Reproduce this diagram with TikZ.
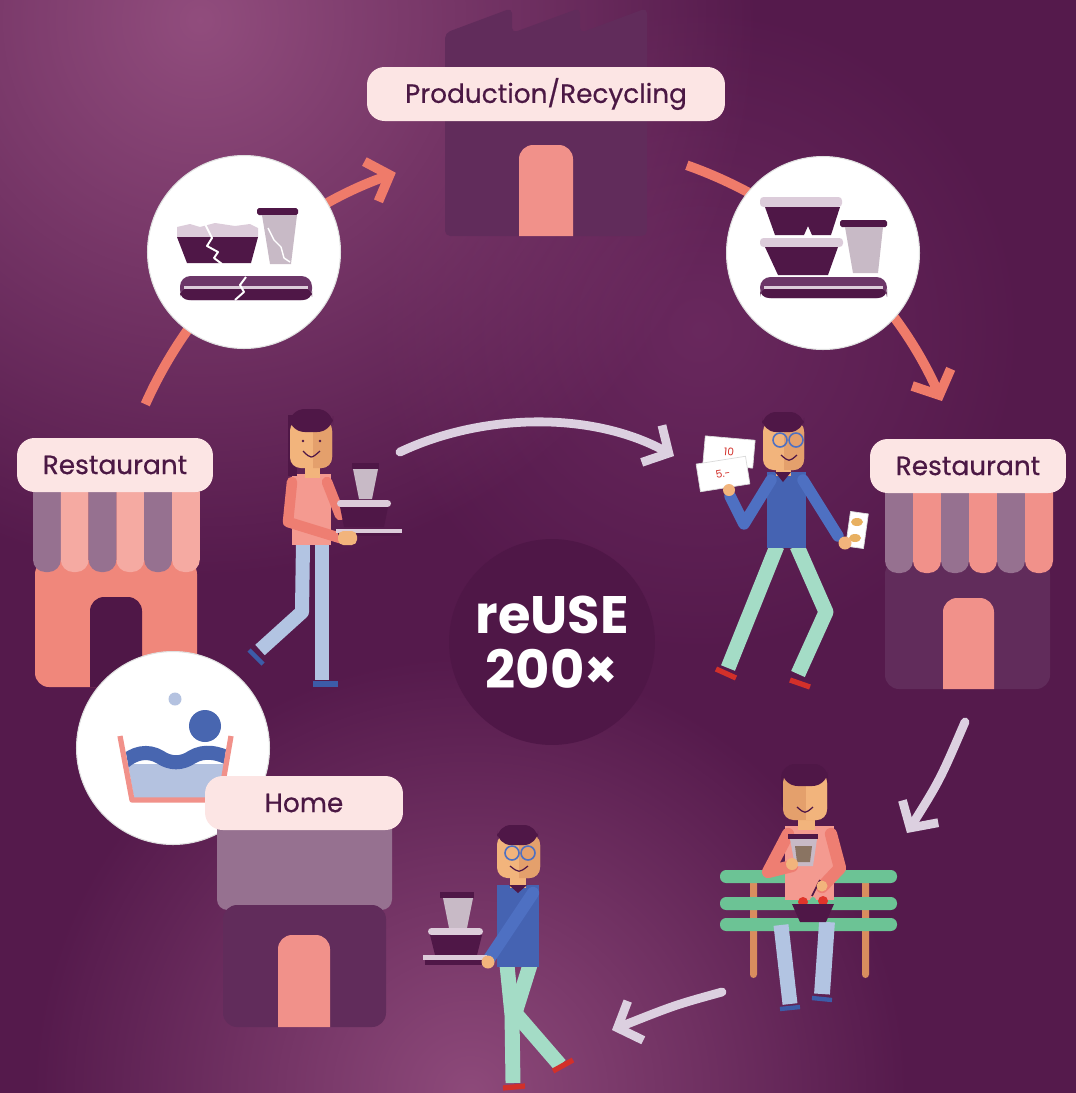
\documentclass[tikz,border=0pt]{standalone}
\usepackage{fontspec}
\newfontfamily\tagfont{Poppins}[FakeBold=0.5]
\newfontfamily\hubfont{Poppins}
\usetikzlibrary{arrows.meta, fadings, calc}

\definecolor{bgdark}{HTML}{551A4C}
\definecolor{bgmid}{HTML}{6E2C62}
\definecolor{bglight}{HTML}{9C5686}
\definecolor{bldg}{HTML}{612C5B}
\definecolor{plum}{HTML}{4F1747}
\definecolor{tagfill}{HTML}{FCE5E4}
\definecolor{tagtext}{HTML}{4B1844}
\definecolor{coral}{HTML}{EF7B6A}
\definecolor{doorpink}{HTML}{F1918A}
\definecolor{brick}{HTML}{F0877B}
\definecolor{mauve}{HTML}{967190}
\definecolor{blush}{HTML}{F5AAA2}
\definecolor{haze}{HTML}{DCD0E0}
\definecolor{lidgrey}{HTML}{DCCCDA}
\definecolor{cupgrey}{HTML}{C8BAC6}
\definecolor{traymid}{HTML}{6C3668}
\definecolor{jumper}{HTML}{4563B2}
\definecolor{sleeve}{HTML}{4E70C2}
\definecolor{denim}{HTML}{B2C4E2}
\definecolor{mint}{HTML}{A4DCC6}
\definecolor{skin}{HTML}{F2B47C}
\definecolor{skindark}{HTML}{E4A06C}
\definecolor{shirt}{HTML}{F49A90}
\definecolor{shirtarm}{HTML}{EE7E72}
\definecolor{bench}{HTML}{6CC395}
\definecolor{benchleg}{HTML}{D98D5E}
\definecolor{shoeblue}{HTML}{3C5CA8}
\definecolor{shoered}{HTML}{D2302A}
\definecolor{wave}{HTML}{4866B0}
\definecolor{water}{HTML}{B4C2E0}
\definecolor{coffee}{HTML}{8A7462}
\definecolor{tomato}{HTML}{E0352B}
\definecolor{coin}{HTML}{E8B060}

\tikzfading[name=glowfade, inner color=transparent!0, outer color=transparent!100]

\begin{document}
\begin{tikzpicture}[x=0.02cm, y=-0.02cm, line join=round,
  signbox/.style={fill=tagfill, text=tagtext, rounded corners=10pt, inner sep=0pt,
    minimum height=1.08cm, font=\tagfont\fontsize{15}{18}\selectfont},
  icondisc/.style={circle, fill=white, draw=black!12, line width=.6pt, inner sep=0pt, minimum size=3.86cm},
  hub/.style={circle, fill=plum, inner sep=0pt, minimum size=4.12cm, text=white, align=center,
    font=\hubfont\bfseries\fontsize{30}{31}\selectfont},
  cyclearrow/.style={coral, line width=5.5pt, -{Straight Barb[length=11pt, width=24pt]}},
  handover/.style={haze, line width=5pt, line cap=round, -{Straight Barb[length=11pt, width=24pt]}},
  bill/.style={fill=white, draw=black!15, inner sep=0pt, minimum width=1cm, minimum height=.56cm,
    text=shoered, font=\hubfont\fontsize{6}{6}\selectfont}]

\useasboundingbox (0,0) rectangle (1076,1093);

%\draw[help lines, step=50] (0,0) grid (1076,1093);

\begin{scope}
\clip (0,0) rectangle (1076,1093);
\fill[bgdark] (0,0) rectangle (1076,1093);
\fill[bgmid, path fading=glowfade, fill opacity=.8] (700,330) circle (330);
\fill[bglight, path fading=glowfade, fill opacity=.85] (200,20) circle (560);
\fill[bglight, path fading=glowfade, fill opacity=.8] (470,1093) circle (440);
\end{scope}

\coordinate (cyc) at (540,580);

% factory
\fill[bldg, rounded corners=3pt] (445,236) -- (445,33) -- (512,8) -- (512,33) -- (580,8) -- (580,33) -- (647,8) -- (647,236) -- cycle;
\fill[doorpink] (519,236) [rounded corners=8pt]-- (519,145) -- (573,145) [sharp corners]-- (573,236) -- cycle;
\node[signbox, minimum width=7.16cm] (prod) at (546,94) {Production/Recycling};

% coral arcs of the cycle
\coordinate (rl) at ($(cyc)+(204:432)$);
\coordinate (rr) at ($(cyc)+(289.5:440)$);
\draw[cyclearrow] (rl) arc[start angle=204, end angle=250.5, radius=432];
\draw[cyclearrow] (rr) arc[start angle=289.5, end angle=336, radius=440];

% broken containers
\node[icondisc] (broken) at (244,252) {};
\fill[lidgrey] (177,227) -- (190,224) -- (200,227) -- (215,223) -- (235,226) -- (250,224) -- (258,228) -- (258,237) -- (177,237) -- cycle;
\fill[plum] (177,237) -- (258,237) -- (251,263) -- (187,263) -- cycle;
\fill[plum, rounded corners=1pt] (257,208) rectangle (298,215);
\fill[cupgrey] (262,215) -- (297,215) -- (291,264) -- (270,264) -- cycle;
\fill[traymid, rounded corners=6pt] (180,276) rectangle (312,300);
\fill[plum, rounded corners=5pt] (180,288) rectangle (312,300);
\fill[lidgrey] (184,286) rectangle (308,289);
\draw[white, line width=1.1pt] (205,224) -- (212,238) -- (207,246) -- (218,252) -- (214,258) -- (222,264);
\draw[white, line width=1.1pt] (246,277) -- (240,285) -- (244,292) -- (235,300);
\draw[white, line width=.8pt] (268,228) -- (274,240) -- (281,247) -- (284,258) -- (290,262);

% clean stack
\node[icondisc] (stack) at (823,253) {};
\fill[lidgrey, rounded corners=2pt] (760,197) rectangle (842,207);
\fill[plum] (765,207) -- (840,207) -- (831,235) -- (812,235) -- (808,226) -- (804,235) -- (775,235) -- cycle;
\fill[lidgrey, rounded corners=2pt] (760,238) rectangle (843,247);
\fill[plum] (765,247) -- (838,247) -- (828,275) -- (778,275) -- cycle;
\fill[plum, rounded corners=1pt] (840,220) rectangle (887,227);
\fill[cupgrey] (845,227) -- (883,227) -- (878,273) -- (853,273) -- cycle;
\fill[traymid, rounded corners=6pt] (760,277) rectangle (887,298);
\fill[plum, rounded corners=5pt] (760,288) rectangle (887,298);
\fill[lidgrey] (764,286) rectangle (883,289);

% restaurant on the left
\fill[brick, rounded corners=8pt] (35,560) rectangle (197,687);
\foreach \i/\c in {0/mauve, 1/blush, 2/mauve, 3/blush, 4/mauve, 5/blush}
  \fill[\c, rounded corners=7pt] ({33+\i*27.8},480) rectangle ({33+(\i+1)*27.8},572);
\fill[plum] (90,687) [rounded corners=8pt]-- (90,597) -- (142,597) [sharp corners]-- (142,687) -- cycle;
\node[signbox, minimum width=3.92cm] (restL) at (115,465) {Restaurant};

% restaurant on the right
\fill[bldg, rounded corners=8pt] (885,560) rectangle (1050,689);
\foreach \i/\c in {0/mauve, 1/doorpink, 2/mauve, 3/doorpink, 4/mauve, 5/doorpink}
  \fill[\c, rounded corners=7pt] ({885+\i*28},480) rectangle ({885+(\i+1)*28},573);
\fill[doorpink] (943,689) [rounded corners=8pt]-- (943,598) -- (994,598) [sharp corners]-- (994,689) -- cycle;
\node[signbox, minimum width=3.92cm] (restR) at (968,466) {Restaurant};

% washing bowl
\node[icondisc] (wash) at (173,748) {};
\begin{scope}
\clip (123,736) -- (134,798) -- (219,798) -- (228,736) -- cycle;
\fill[water] (120,764) rectangle (232,800);
\draw[wave, line width=8pt] (122,764) .. controls (134,752) and (148,750) .. (160,757) .. controls (170,764) and (182,764) .. (192,757) .. controls (204,750) and (218,752) .. (232,760);
\end{scope}
\draw[doorpink, line width=3pt] (120,736) -- (132,800) -- (220,800) -- (231,736);
\fill[wave] (205,726) circle (16);
\fill[water] (175,699) circle (6.5);

% home
\fill[mauve, rounded corners=6pt] (217,815) rectangle (392,910);
\fill[bldg, rounded corners=8pt] (223,905) rectangle (386,1027);
\fill[doorpink] (278,1027) [rounded corners=8pt]-- (278,935) -- (330,935) [sharp corners]-- (330,1027) -- cycle;
\node[signbox, minimum width=3.96cm] (home) at (304,803) {Home};

% centre
\node[hub] (reuse) at (552,642) {reUSE\\200×};

% light arrows between the people
\coordinate (g1) at (400,452);
\coordinate (g2) at (674,456);
\coordinate (g3) at (965,722);
\coordinate (g4) at (907,833);
\coordinate (g5) at (722,992);
\coordinate (g6) at (612,1030);
\draw[handover] (g1) .. controls (480,414) and (590,410) .. (g2);
\draw[handover] (g3) .. controls (940,780) .. (g4);
\draw[handover] (g5) .. controls (675,1005) .. (g6);

% woman with a tray
\draw[denim, line width=8pt] (303,543) -- (302,612) -- (260,650);
\draw[denim, line width=8.5pt] (322,543) -- (322,680);
\draw[shoeblue, line width=2.5pt] (249,650) -- (263,664);
\draw[shoeblue, line width=3pt] (313,684) -- (338,684);
\fill[shirt] (292,474) rectangle (331,545);
\draw[shirtarm, line width=6pt, line cap=round] (292,482) -- (288,522) -- (340,538);
\draw[shirtarm, line width=6pt, line cap=round] (327,482) -- (340,515);
\fill[plum] (288,415) rectangle (297,476);
\fill[skin] (305,460) rectangle (320,478);
\fill[skin, rounded corners=6pt] (290,420) rectangle (332,468);
\fill[skindark] (313,420) [rounded corners=6pt]-- (332,420) -- (332,468) [sharp corners]-- (313,468) -- cycle;
\fill[plum, rounded corners=9pt] (289,409) rectangle (333,432);
\fill[plum] (303,441) circle (1.3) (320,441) circle (1.3);
\draw[plum, line width=.7pt] (303,451) .. controls (311,459) .. (320,451);
\fill[plum] (352,463) rectangle (379,469);
\fill[cupgrey] (353,469) -- (378,469) -- (372,499) -- (359,499) -- cycle;
\fill[lidgrey, rounded corners=2pt] (337,500) rectangle (391,507);
\fill[plum] (340,507) -- (388,507) -- (384,527) -- (344,527) -- cycle;
\fill[lidgrey] (336,529) rectangle (402,533);
\fill[plum] (338,533) rectangle (400,536);
\fill[skin, rounded corners=3pt] (338,531) rectangle (357,545);

% man paying
\draw[mint, line width=8.5pt] (777,546) -- (728,668);
\draw[mint, line width=8.5pt] (797,546) -- (826,612) -- (798,674);
\draw[shoered, line width=3pt] (716,669) -- (736,678);
\draw[shoered, line width=3pt] (790,680) -- (810,687);
\fill[jumper] (767,472) rectangle (806,548);
\draw[sleeve, line width=6.5pt, line cap=round] (771,480) -- (744,524) -- (730,496);
\draw[sleeve, line width=6.5pt, line cap=round] (803,480) -- (838,536);
\fill[skin] (776,462) rectangle (791,476);
\fill[plum] (775,472) -- (791,472) -- (783,482) -- cycle;
\fill[skin, rounded corners=6pt] (763,421) rectangle (804,470);
\fill[skindark] (784,421) [rounded corners=6pt]-- (804,421) -- (804,470) [sharp corners]-- (784,470) -- cycle;
\fill[plum, rounded corners=8pt] (762,412) rectangle (804,432);
\draw[sleeve, line width=.9pt] (780,440) circle (7) (796,440) circle (7);
\draw[plum, line width=.7pt] (781,455) .. controls (789,462) .. (797,455);
\node[bill, rotate=-5] (bill10) at (729,452) {10};
\node[bill, rotate=9] (bill5) at (723,474) {5.-};
\fill[skin] (729,490) circle (6);
\node[fill=white, draw=black!15, inner sep=0pt, minimum width=.36cm, minimum height=.7cm, rotate=-8] (ticket) at (857,530) {};
\fill[coin] (857,522) ellipse (6 and 4) (855,538) ellipse (6 and 4);
\fill[skin] (845,543) circle (6.5);

% woman on the bench
\fill[benchleg, rounded corners=2pt] (750,880) rectangle (757,978);
\fill[benchleg, rounded corners=2pt] (862,880) rectangle (869,978);
\foreach \y in {870, 897, 918}
  \fill[bench, rounded corners=3.5pt] (720,\y) rectangle (897,{\y+13});
\draw[denim, line width=8.5pt] (781,925) -- (790,1004);
\draw[denim, line width=9pt] (827,922) -- (822,994);
\draw[shoeblue, line width=2.5pt] (780,1009) -- (800,1007);
\draw[shoeblue, line width=2.5pt] (812,998) -- (832,1000);
\fill[shirt] (785,826) rectangle (834,900);
\fill[plum, rounded corners=8pt] (781,764) rectangle (828,815);
\fill[skin] (798,812) rectangle (815,830);
\fill[skindark, rounded corners=6pt] (783,772) rectangle (827,820);
\fill[skin] (806,772) [rounded corners=6pt]-- (827,772) -- (827,820) [sharp corners]-- (806,820) -- cycle;
\fill[plum, rounded corners=9pt] (782,764) rectangle (828,786);
\draw[plum, line width=.7pt] (797,807) .. controls (805,814) .. (813,807);
\draw[shirtarm, line width=7pt, line cap=round] (788,834) -- (768,872) -- (792,866);
\draw[shirtarm, line width=7pt, line cap=round] (831,834) -- (840,868) -- (822,887);
\fill[plum] (788,834) rectangle (818,839);
\fill[cupgrey] (790,839) -- (817,839) -- (813,866) -- (795,866) -- cycle;
\fill[coffee] (795,846) -- (812,846) -- (810,862) -- (797,862) -- cycle;
\fill[skin] (792,864) circle (6);
\draw[plum, line width=1pt] (812,896) -- (820,880);
\fill[skin] (822,886) circle (5.5);
\fill[tomato] (803,902) circle (5) (823,901) circle (5);
\fill[bench] (813,900) circle (3);
\fill[plum] (792,904) -- (834,904) -- (826,922) -- (800,922) -- cycle;

% man bringing the tray home
\draw[mint, line width=8.5pt] (507,965) -- (512,1015) -- (513,1083);
\draw[mint, line width=8.5pt] (530,965) -- (515,1013) -- (560,1065);
\draw[shoered, line width=3pt] (503,1088) -- (525,1086);
\draw[shoered, line width=3pt] (553,1071) -- (573,1060);
\fill[jumper] (497,885) rectangle (539,967);
\fill[skin] (510,874) rectangle (526,888);
\fill[plum] (509,885) -- (527,885) -- (518,893) -- cycle;
\fill[skin, rounded corners=6pt] (497,834) rectangle (540,878);
\fill[skindark] (519,834) [rounded corners=6pt]-- (540,834) -- (540,878) [sharp corners]-- (519,878) -- cycle;
\fill[plum, rounded corners=8pt] (497,825) rectangle (538,845);
\draw[sleeve, line width=.9pt] (512,853) circle (7) (528,853) circle (7);
\draw[plum, line width=.7pt] (510,866) .. controls (519,873) .. (528,866);
\draw[sleeve, line width=7pt, line cap=round] (533,893) -- (489,959);
\fill[plum] (440,892) rectangle (474,898);
\fill[cupgrey] (443,898) -- (473,898) -- (467,928) -- (449,928) -- cycle;
\fill[lidgrey, rounded corners=2pt] (428,928) rectangle (483,935);
\fill[plum] (430,935) -- (482,935) -- (477,955) -- (435,955) -- cycle;
\fill[lidgrey] (423,955) rectangle (487,960);
\fill[plum] (425,960) rectangle (485,965);
\fill[skin] (488,962) circle (6.5);

\end{tikzpicture}
\end{document}
